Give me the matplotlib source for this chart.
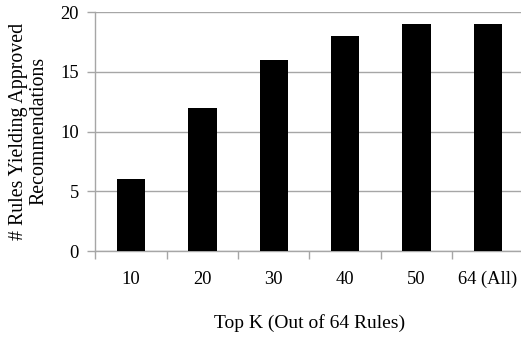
import matplotlib
matplotlib.use('Agg')
import matplotlib.pyplot as plt
import numpy as np

categories = ['10', '20', '30', '40', '50', '64 (All)']
rule_counts = [6, 12, 16, 18, 19, 19]
y_ticks = [0, 5, 10, 15, 20]

plt.rcParams['font.family'] = ['Liberation Serif', 'DejaVu Serif']

fig = plt.figure(figsize=(5.21, 3.38), dpi=100)
ax = fig.add_axes([0.183, 0.257, 0.822, 0.707])

x = np.arange(len(categories))
ax.bar(x, rule_counts, width=0.4, color='black', zorder=3)

ax.set_xlim(-0.5, len(categories) - 0.5)
ax.set_ylim(0, 20)
ax.set_yticks(y_ticks)
ax.yaxis.grid(True, color='#a6a6a6', linewidth=1.0, zorder=0)

# category labels centred on bars, tick marks on the boundaries
ax.set_xticks(x)
ax.set_xticklabels(categories, fontsize=13.3)
ax.tick_params(axis='x', length=0, pad=14)
ax.set_xticks(np.arange(len(categories) + 1) - 0.5, minor=True)
ax.tick_params(axis='x', which='minor', length=6, color='#a6a6a6', width=1.0)
ax.tick_params(axis='y', length=6, color='#a6a6a6', width=1.0, labelsize=13.3, pad=6)

for side in ['top', 'right']:
    ax.spines[side].set_visible(False)
for side in ['left', 'bottom']:
    ax.spines[side].set_color('#a6a6a6')
    ax.spines[side].set_linewidth(1.0)

fig.text(0.056, 0.612, '# Rules Yielding Approved\nRecommendations', rotation=90,
         ha='center', va='center', fontsize=14.3, linespacing=1.1)
ax.set_xlabel('Top K (Out of 64 Rules)', fontsize=14, labelpad=19)

fig.savefig('out.png', dpi=100)
